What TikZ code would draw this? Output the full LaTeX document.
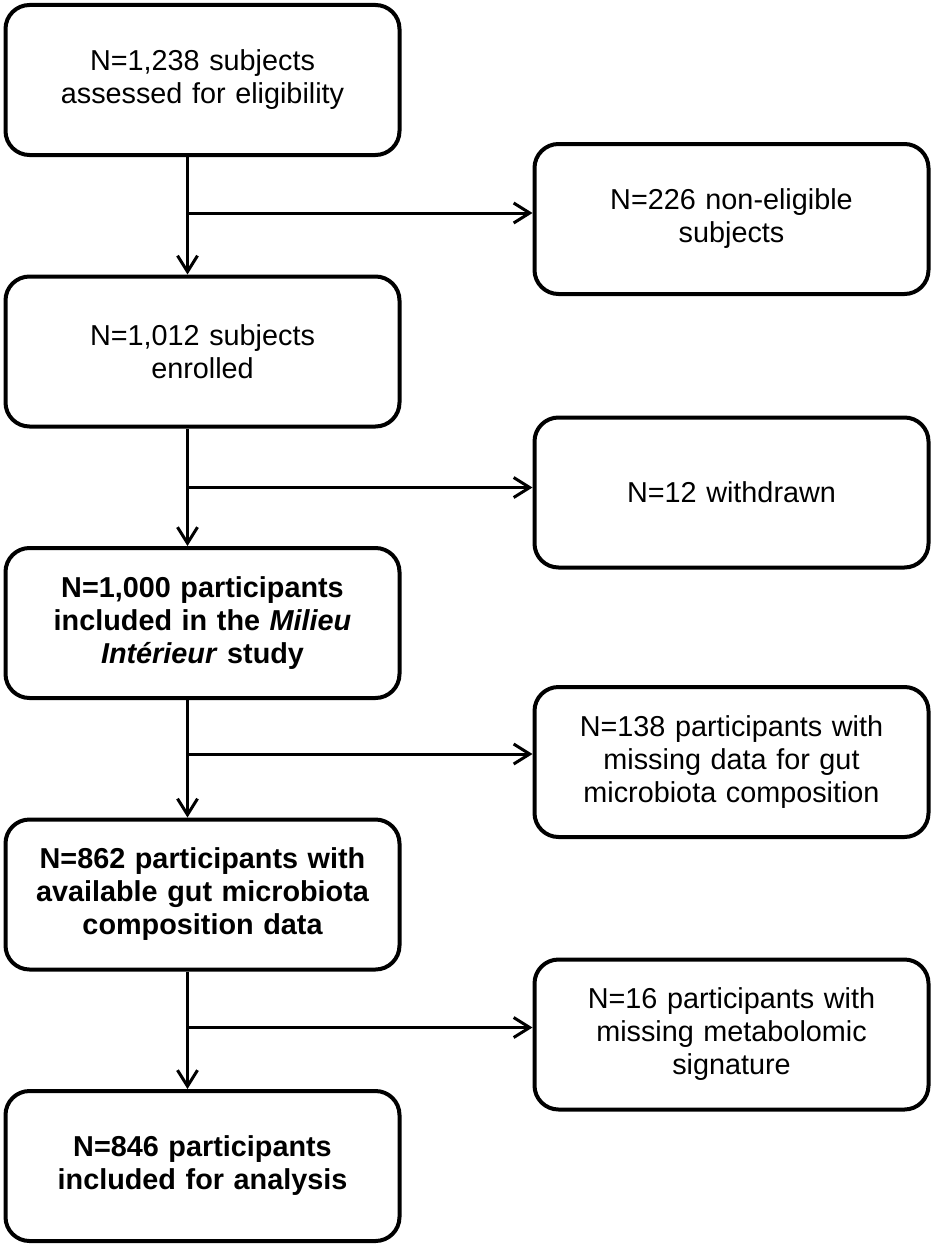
\documentclass[tikz,border=0pt]{standalone}
\usepackage{fontspec}
\setmainfont{Liberation Sans}
\usepackage{tikz}
\usetikzlibrary{arrows.meta}
\usetikzlibrary{positioning}

\begin{document}
\begin{tikzpicture}[>={Straight Barb[length=16pt,width=20pt]}, node distance = 271.5pt,
		box/.style={draw, line width=4pt, rounded corners=24pt, minimum width=394pt, minimum height=150pt,
			text width=375pt, align=center, font=\fontsize{28.8}{33}\selectfont},
		boldbox/.style={box, font=\fontsize{28.8}{33}\selectfont\bfseries},
		flow/.style={line width=3pt}]
			\useasboundingbox (0,0) rectangle (933pt,-1244pt);
			\node[box] (Assessed) at (202.5pt,-80pt) {N=1,238 subjects\\assessed for eligibility};
			\node[box, below of=Assessed] (Enrolled) {N=1,012 subjects\\enrolled};
			\node[boldbox, below of=Enrolled] (Included) {N=1,000 participants\\included in the \textit{Milieu}\\\textit{Intérieur} study};
			\node[boldbox, below of=Included] (Gut) {N=862 participants with\\available gut microbiota\\composition data};
			\node[boldbox, below of=Gut] (Analysis) {N=846 participants\\included for analysis};
			% exclusions
			\node[box, below right=-15pt and 131pt of Assessed] (NonElig) {N=226 non-eligible\\subjects};
			\node[box, below right=-13pt and 131pt of Enrolled] (Withdrawn) {N=12 withdrawn};
			\node[box, below right=-15pt and 131pt of Included] (NoGut) {N=138 participants with\\missing data for gut\\microbiota composition};
			\node[box, below right=-14pt and 131pt of Gut] (NoMetab) {N=16 participants with\\missing metabolomic\\signature};
			% trunk
			\coordinate (t1) at ([xshift=-15pt]Assessed.south);
			\coordinate (t2) at ([xshift=-15pt]Enrolled.south);
			\coordinate (t3) at ([xshift=-15pt]Included.south);
			\coordinate (t4) at ([xshift=-15pt]Gut.south);
			\coordinate (e1) at ([yshift=6pt]NonElig.west);
			\coordinate (e2) at ([yshift=5pt]Withdrawn.west);
			\coordinate (e3) at ([yshift=8pt]NoGut.west);
			\coordinate (e4) at ([yshift=7pt]NoMetab.west);
			\draw[flow, ->] (t1) -- (t1 |- Enrolled.north);
			\draw[flow, ->] (t2) -- (t2 |- Included.north);
			\draw[flow, ->] (t3) -- (t3 |- Gut.north);
			\draw[flow, ->] (t4) -- (t4 |- Analysis.north);
			\draw[flow, ->] (t1 |- e1) -- (e1);
			\draw[flow, ->] (t2 |- e2) -- (e2);
			\draw[flow, ->] (t3 |- e3) -- (e3);
			\draw[flow, ->] (t4 |- e4) -- (e4);
		\end{tikzpicture}
\end{document}
